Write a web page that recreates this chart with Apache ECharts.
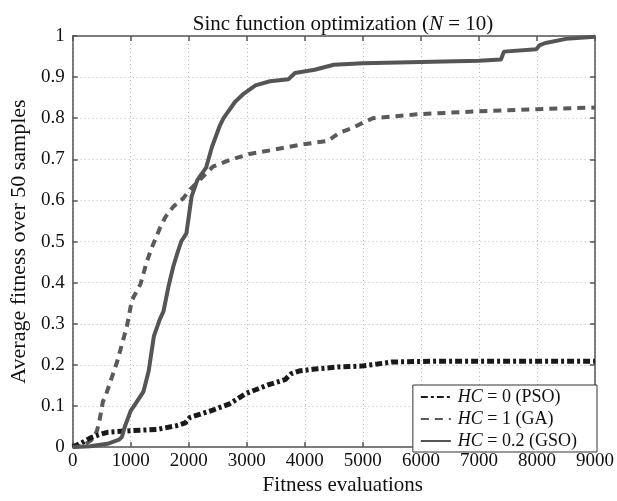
<!DOCTYPE html>
<html>
<head>
<meta charset="utf-8">
<script src="https://cdn.jsdelivr.net/npm/echarts@6/dist/echarts.min.js"></script>
<style>
html,body{margin:0;padding:0;background:#fff;}
#chart{width:617px;height:501px;}
</style>
</head>
<body>
<div id="chart"></div>
<script>
// ---- data ----
const seriesNames = ['HC = 0 (PSO)', 'HC = 1 (GA)', 'HC = 0.2 (GSO)'];
const xTicks = [0, 1000, 2000, 3000, 4000, 5000, 6000, 7000, 8000, 9000];
const yTicks = [0, 0.1, 0.2, 0.3, 0.4, 0.5, 0.6, 0.7, 0.8, 0.9, 1];

const psoX = [0, 150, 300, 450, 600, 1000, 1450, 1790, 1940, 2020, 2200, 2415, 2700, 2980, 3380, 3660, 3760, 3900, 4170, 4580, 4970, 5250, 5500, 6280, 7000, 8000, 9000];
const psoY = [0, 0.01, 0.022, 0.03, 0.036, 0.04, 0.043, 0.052, 0.059, 0.072, 0.08, 0.09, 0.105, 0.13, 0.152, 0.164, 0.178, 0.185, 0.19, 0.195, 0.197, 0.202, 0.207, 0.209, 0.209, 0.209, 0.209];

const gaX = [0, 200, 350, 420, 470, 520, 580, 700, 765, 935, 1020, 1170, 1275, 1360, 1510, 1600, 1735, 1905, 2025, 2195, 2415, 2700, 3045, 3490, 3900, 4200, 4400, 4600, 4800, 5000, 5170, 5990, 7000, 8000, 9000];
const gaY = [0, 0.005, 0.02, 0.04, 0.07, 0.11, 0.13, 0.18, 0.207, 0.294, 0.357, 0.397, 0.45, 0.484, 0.535, 0.56, 0.585, 0.605, 0.627, 0.651, 0.682, 0.698, 0.713, 0.724, 0.735, 0.741, 0.745, 0.765, 0.775, 0.789, 0.8, 0.81, 0.817, 0.822, 0.826];

const gsoX = [0, 300, 600, 800, 850, 900, 1000, 1090, 1220, 1310, 1400, 1500, 1565, 1650, 1735, 1800, 1870, 1960, 2000, 2050, 2150, 2300, 2400, 2530, 2600, 2800, 2950, 3150, 3400, 3720, 3830, 4170, 4500, 5000, 6000, 7000, 7380, 7430, 7990, 8050, 8150, 8500, 9000];
const gsoY = [0, 0.002, 0.008, 0.018, 0.025, 0.05, 0.088, 0.107, 0.135, 0.185, 0.27, 0.31, 0.33, 0.39, 0.44, 0.47, 0.5, 0.52, 0.56, 0.61, 0.65, 0.68, 0.73, 0.78, 0.8, 0.84, 0.86, 0.88, 0.89, 0.895, 0.91, 0.918, 0.93, 0.934, 0.937, 0.94, 0.943, 0.962, 0.968, 0.978, 0.983, 0.993, 0.998];

function pairs(xs, ys) { return xs.map((x, i) => [x, ys[i]]); }

const FONT = '"Liberation Serif", "DejaVu Serif", serif';
const chart = echarts.init(document.getElementById('chart'), null, {renderer: 'canvas'});

const axisLineStyle = {color: '#555', width: 1.5};
const gridLine = {show: true, lineStyle: {color: '#b8b8b8', width: 1, type: [1, 3]}};

chart.setOption({
  backgroundColor: '#fff',
  animation: false,
  textStyle: {fontFamily: FONT},
  title: {
    text: '{a|Sinc function optimization (}{i|N}{a| = 10)}',
    left: 338, top: 9, textAlign: 'center',
    textStyle: {
      fontWeight: 'normal',
      rich: {
        a: {fontFamily: FONT, fontSize: 21, color: '#111', fontWeight: 'normal'},
        i: {fontFamily: FONT, fontSize: 21, color: '#111', fontStyle: 'italic', fontWeight: 'normal'}
      }
    }
  },
  grid: {left: 68, right: 20, top: 36, bottom: 44, containLabel: false},
  legend: {
    orient: 'vertical',
    right: 20, top: 385,
    itemWidth: 30, itemHeight: 14, itemGap: 4,
    padding: [3, 20, 2, 7],
    backgroundColor: '#fff',
    borderColor: '#333', borderWidth: 1,
    itemStyle: {opacity: 0},
    data: seriesNames,
    formatter: function (name) {
      return '{i|HC}{a|' + name.slice(2) + '}';
    },
    textStyle: {
      rich: {
        a: {fontFamily: FONT, fontSize: 18, color: '#111'},
        i: {fontFamily: FONT, fontSize: 18, color: '#111', fontStyle: 'italic', padding: [0, 0, 0, 2]}
      }
    }
  },
  xAxis: [{
    type: 'value', min: 0, max: 9000, interval: 1000,
    name: 'Fitness evaluations', nameLocation: 'middle', nameGap: 20,
    nameTextStyle: {fontFamily: FONT, fontSize: 21, color: '#111', padding: [0, 0, 0, 18]},
    axisLine: {show: true, onZero: false, lineStyle: axisLineStyle},
    axisTick: {show: true, inside: true, length: 5, lineStyle: axisLineStyle},
    axisLabel: {fontFamily: FONT, fontSize: 19, color: '#111', margin: 4,
      formatter: v => xTicks.indexOf(v) >= 0 ? String(v) : ''},
    splitLine: gridLine
  }, {
    type: 'value', min: 0, max: 9000, interval: 1000, position: 'top',
    axisLine: {show: true, onZero: false, lineStyle: axisLineStyle},
    axisTick: {show: true, inside: true, length: 5, lineStyle: axisLineStyle},
    axisLabel: {show: false}, splitLine: {show: false}
  }],
  yAxis: [{
    type: 'value', min: 0, max: 1, interval: 0.1,
    name: 'Average fitness over 50 samples', nameLocation: 'middle', nameGap: 36,
    nameTextStyle: {fontFamily: FONT, fontSize: 22, color: '#111'},
    axisLine: {show: true, onZero: false, lineStyle: axisLineStyle},
    axisTick: {show: true, inside: true, length: 5, lineStyle: axisLineStyle},
    axisLabel: {fontFamily: FONT, fontSize: 19, color: '#111', margin: 8,
      formatter: v => {
        const t = yTicks.find(y => Math.abs(y - v) < 1e-9);
        return t === undefined ? '' : String(t);
      }},
    splitLine: gridLine
  }, {
    type: 'value', min: 0, max: 1, interval: 0.1, position: 'right',
    axisLine: {show: true, onZero: false, lineStyle: axisLineStyle},
    axisTick: {show: true, inside: true, length: 5, lineStyle: axisLineStyle},
    axisLabel: {show: false}, splitLine: {show: false}
  }],
  series: [{
    name: seriesNames[0], type: 'line', data: pairs(psoX, psoY),
    showSymbol: false, symbol: 'none', z: 3,
    lineStyle: {color: '#1a1a1a', width: 5, type: [7, 3, 3, 3]},
    itemStyle: {color: '#1a1a1a'}
  }, {
    name: seriesNames[1], type: 'line', data: pairs(gaX, gaY),
    showSymbol: false, symbol: 'none', z: 2,
    lineStyle: {color: '#5a5a5a', width: 4, type: [8, 6]},
    itemStyle: {color: '#5a5a5a'}
  }, {
    name: seriesNames[2], type: 'line', data: pairs(gsoX, gsoY),
    showSymbol: false, symbol: 'none', z: 4,
    lineStyle: {color: '#555', width: 4, type: 'solid'},
    itemStyle: {color: '#555'}
  }]
});
</script>
</body>
</html>
